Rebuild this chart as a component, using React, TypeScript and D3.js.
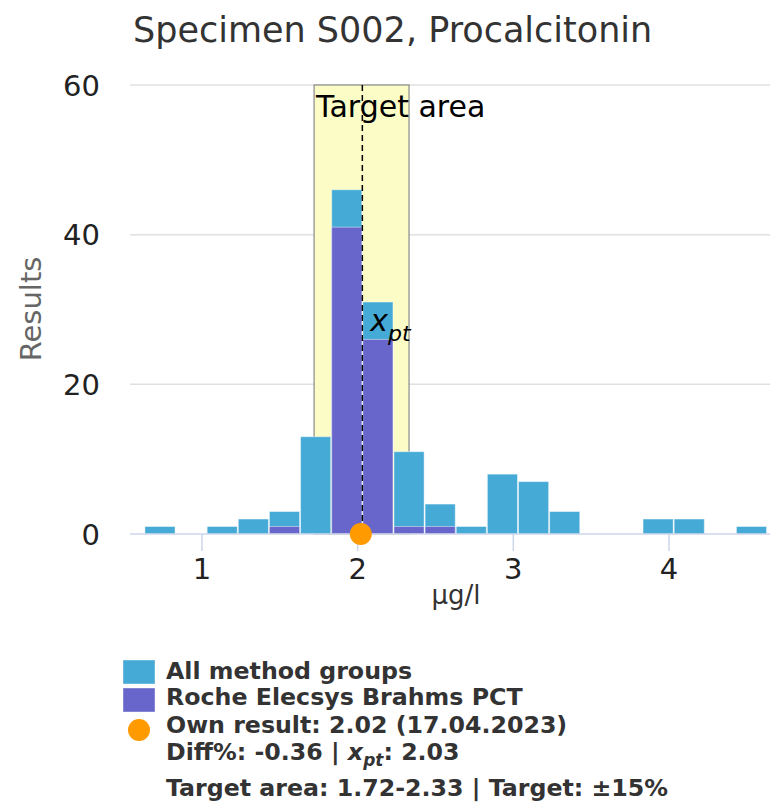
import React from "react";
import * as d3 from "d3";

// histogram bins start at x_pt and step by 0.2 in both directions
const binStarts = [0.63, 0.83, 1.03, 1.23, 1.43, 1.63, 1.83, 2.03, 2.23, 2.43, 2.63, 2.83, 3.03, 3.23, 3.43, 3.63, 3.83, 4.03, 4.23, 4.43];
const allCounts = [1, 0, 1, 2, 3, 13, 46, 31, 11, 4, 1, 8, 7, 3, 0, 0, 2, 2, 0, 1];
const rocheCounts = [0, 0, 0, 0, 1, 0, 41, 26, 1, 1, 0, 0, 0, 0, 0, 0, 0, 0, 0, 0];
const binWidth = 0.2;

const xTicks = [1, 2, 3, 4];
const yTicks = [0, 20, 40, 60];

const xpt = 2.03;
const ownResult = 2.02;
const targetLow = 1.72;
const targetHigh = 2.33;

const title = "Specimen S002, Procalcitonin";
const legendAll = "All method groups";
const legendRoche = "Roche Elecsys Brahms PCT";
const legendOwn = "Own result: 2.02 (17.04.2023)";

const FONT = "'DejaVu Sans', sans-serif";
const BLUE = "#45aad5";
const PURPLE = "#6866cb";
const ORANGE = "#ff9a00";

export default function App() {
  const x = d3.scaleLinear().domain([1, 4]).range([202, 669]);
  const y = d3.scaleLinear().domain([0, 60]).range([534, 85]);
  const left = 130;
  const right = 770;

  const bar = (start: number, count: number, fill: string, key: string) =>
    count > 0 ? (
      <rect
        key={key}
        x={x(start) + 0.5}
        y={y(count)}
        width={x(start + binWidth) - x(start) - 1}
        height={y(0) - y(count)}
        fill={fill}
        stroke="#ffffff"
        strokeOpacity={0.45}
        strokeWidth={1}
      />
    ) : null;

  return (
    <div style={{ position: "absolute", left: 0, top: 0 }}>
      <svg width={777} height={810} style={{ display: "block", fontFamily: FONT }}>
        <rect width={777} height={810} fill="#ffffff" />
        <text x={133} y={42} fontSize={35} fill="#333333">{title}</text>

        {/* grid */}
        {yTicks.filter((t) => t > 0).map((t) => (
          <line key={"g" + t} x1={left} x2={right} y1={y(t)} y2={y(t)} stroke="#e0e0e0" strokeWidth={1.5} />
        ))}

        {/* target area */}
        <rect
          x={x(targetLow)}
          y={y(60)}
          width={x(targetHigh) - x(targetLow)}
          height={y(0) - y(60)}
          fill="#fcfcc6"
          stroke="#8a8a8a"
          strokeWidth={1.2}
        />

        {/* bars */}
        {binStarts.map((s, i) => bar(s, allCounts[i], BLUE, "a" + i))}
        {binStarts.map((s, i) => bar(s, rocheCounts[i], PURPLE, "r" + i))}

        {/* x axis */}
        <line x1={left} x2={right} y1={y(0)} y2={y(0)} stroke="#ccd6eb" strokeWidth={1.5} />
        {xTicks.map((t) => (
          <g key={"x" + t}>
            <line x1={x(t)} x2={x(t)} y1={y(0)} y2={y(0) + 17} stroke="#ccd6eb" strokeWidth={1.5} />
            <text x={x(t)} y={579} textAnchor="middle" fontSize={29} fill="#222222">{t}</text>
          </g>
        ))}
        <text x={456} y={604} textAnchor="middle" fontSize={26} fill="#333333">µg/l</text>

        {/* y axis */}
        {yTicks.map((t) => (
          <text key={"y" + t} x={100} y={y(t) + 10.5} textAnchor="end" fontSize={29} fill="#222222">{t}</text>
        ))}
        <text transform={`translate(41,309) rotate(-90)`} textAnchor="middle" fontSize={29} fill="#666666">Results</text>

        {/* x_pt line and labels */}
        <line x1={x(xpt)} x2={x(xpt)} y1={y(60)} y2={y(0)} stroke="#000000" strokeWidth={1.5} strokeDasharray="6,4" />
        <text x={x(targetLow) + 2} y={117} fontSize={30} fill="#000000">Target area</text>
        <text x={x(xpt) + 8} y={331} fontSize={30} fill="#000000">
          <tspan fontStyle="italic">x</tspan>
          <tspan fontStyle="italic" fontSize={22} dy={10}>pt</tspan>
        </text>

        {/* own result */}
        <circle cx={x(ownResult)} cy={y(0)} r={11} fill={ORANGE} />

        {/* legend */}
        <g fontSize={23.7} fontWeight="bold" fill="#333333">
          <rect x={123} y={660} width={32} height={24} fill={BLUE} stroke="#ffffff" strokeOpacity={0.4} />
          <text x={166} y={679}>{legendAll}</text>
          <rect x={123} y={688} width={32} height={24} fill={PURPLE} stroke="#ffffff" strokeOpacity={0.4} />
          <text x={166} y={705}>{legendRoche}</text>
          <circle cx={139} cy={730} r={11} fill={ORANGE} />
          <text x={166} y={733}>{legendOwn}</text>
          <text x={166} y={760}>
            Diff%: -0.36 | <tspan fontStyle="italic">x</tspan>
            <tspan fontStyle="italic" fontSize={17} dy={6}>pt</tspan>
            <tspan dy={-6}>: 2.03</tspan>
          </text>
          <text x={166} y={796}>Target area: 1.72-2.33 | Target: ±15%</text>
        </g>
      </svg>
    </div>
  );
}
